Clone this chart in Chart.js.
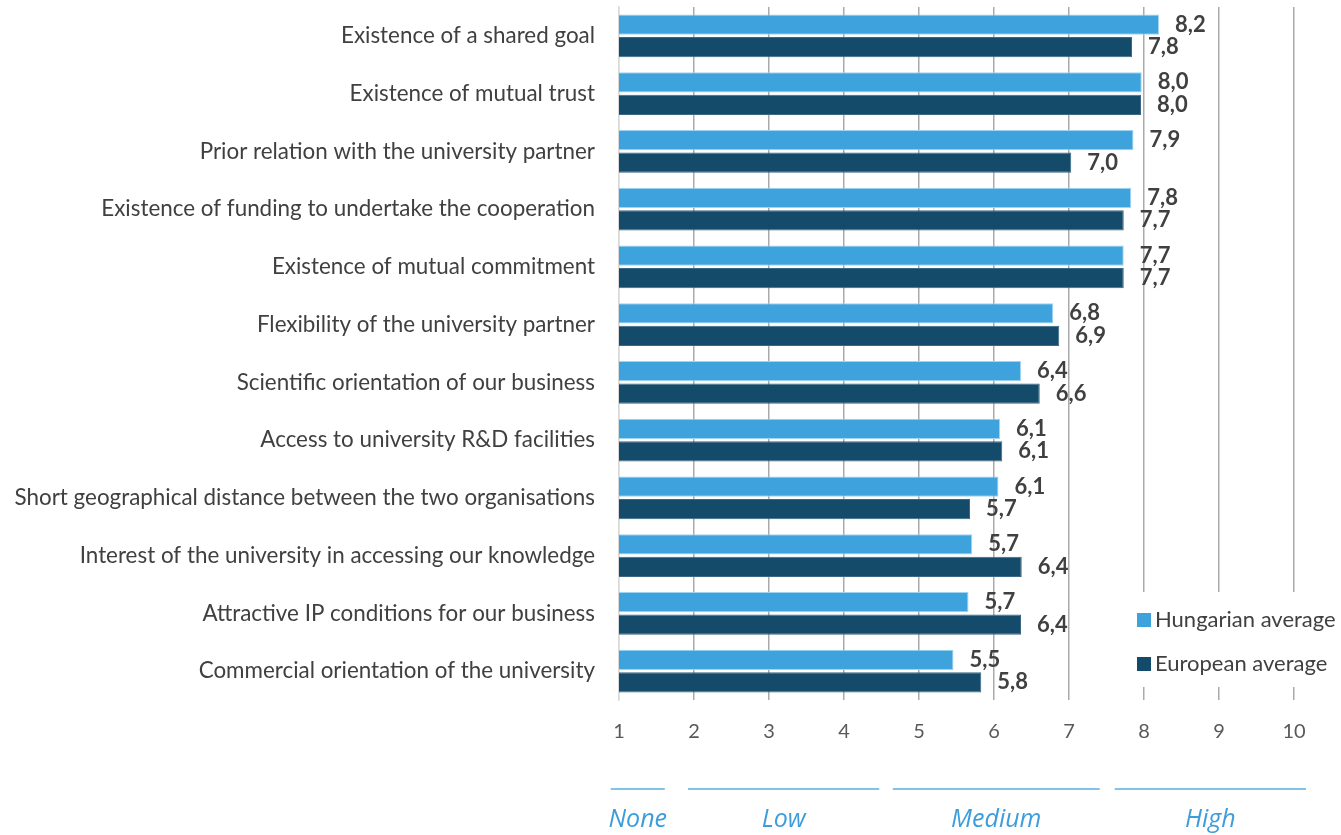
<!DOCTYPE html>
<html>
<head>
<meta charset="utf-8">
<script src="https://cdn.jsdelivr.net/npm/chart.js@4.4.1/dist/chart.umd.min.js"></script>
<style>
  html, body { margin: 0; padding: 0; background: #fff; }
</style>
</head>
<body>
<canvas id="chart" width="1341" height="835"></canvas>
<script>
// categories, top to bottom
const categories = [
  "Existence of a shared goal",
  "Existence of mutual trust",
  "Prior relation with the university partner",
  "Existence of funding to undertake the cooperation",
  "Existence of mutual commitment",
  "Flexibility of the university partner",
  "Scientific orientation of our business",
  "Access to university R&D facilities",
  "Short geographical distance between the two organisations",
  "Interest of the university in accessing our knowledge",
  "Attractive IP conditions for our business",
  "Commercial orientation of the university"
];
const hungarian = [8.2, 7.97, 7.86, 7.83, 7.73, 6.79, 6.36, 6.08, 6.06, 5.71, 5.66, 5.46];
const european = [7.84, 7.96, 7.03, 7.73, 7.73, 6.87, 6.61, 6.11, 5.68, 6.37, 6.36, 5.83];
const seriesNames = ["Hungarian average", "European average"];

// rating bands under the axis
const levelNames = ["None", "Low", "Medium", "High"];
const levelFrom = [0.89, 1.92, 4.65, 7.61];
const levelTo = [1.61, 4.47, 7.41, 10.16];

const textColor = "#404040";
const lightBlue = "#3ea3dd";
const darkBlue = "#144a6a";
const bandBlue = "#3d9ddb";

// value labels at the end of each bar, comma as decimal mark
const valueLabels = {
  id: "valueLabels",
  afterDatasetsDraw(chart) {
    const ctx = chart.ctx;
    ctx.save();
    ctx.font = "bold 22px Lato";
    ctx.fillStyle = textColor;
    ctx.textBaseline = "middle";
    ctx.textAlign = "left";
    chart.data.datasets.forEach((ds, i) => {
      chart.getDatasetMeta(i).data.forEach((bar, j) => {
        const txt = ds.data[j].toFixed(1).replace(".", ",");
        ctx.fillText(txt, bar.x + 16, bar.y);
      });
    });
    ctx.restore();
  }
};

// legend box sitting over the bottom right of the plot
const boxLegend = {
  id: "boxLegend",
  afterDraw(chart) {
    const ctx = chart.ctx;
    ctx.save();
    ctx.fillStyle = "#fff";
    ctx.fillRect(1128, 592, 213, 95);
    ctx.font = "22px Lato";
    ctx.textBaseline = "middle";
    chart.data.datasets.forEach((ds, i) => {
      const y = 620 + i * 44;
      ctx.fillStyle = ds.backgroundColor;
      ctx.fillRect(1137, y - 7, 14, 14);
      ctx.fillStyle = textColor;
      ctx.fillText(ds.label, 1155, y);
    });
    ctx.restore();
  }
};

// None / Low / Medium / High bands
const bands = {
  id: "bands",
  afterDraw(chart) {
    const ctx = chart.ctx;
    const x = chart.scales.x;
    ctx.save();
    ctx.strokeStyle = "#5aaee2";
    ctx.lineWidth = 1.5;
    ctx.fillStyle = bandBlue;
    ctx.font = "italic 25px 'Open Sans'";
    ctx.textAlign = "center";
    ctx.textBaseline = "middle";
    levelNames.forEach((name, i) => {
      const x1 = x.getPixelForValue(levelFrom[i]);
      const x2 = x.getPixelForValue(levelTo[i]);
      ctx.beginPath();
      ctx.moveTo(x1, 789);
      ctx.lineTo(x2, 789);
      ctx.stroke();
      ctx.fillText(name, (x1 + x2) / 2, 820);
    });
    ctx.restore();
  }
};

const ctx = document.getElementById("chart").getContext("2d");
new Chart(ctx, {
  type: "bar",
  data: {
    labels: categories,
    datasets: [
      {
        label: seriesNames[0],
        data: hungarian,
        backgroundColor: lightBlue,
        borderColor: "#9fd4f2",
        borderWidth: 1
      },
      {
        label: seriesNames[1],
        data: european,
        backgroundColor: darkBlue,
        borderColor: "#3a6886",
        borderWidth: 1
      }
    ]
  },
  options: {
    indexAxis: "y",
    responsive: false,
    animation: false,
    categoryPercentage: 0.78,
    barPercentage: 0.89,
    layout: { padding: { top: 7, right: 47, bottom: 0, left: 0 } },
    plugins: {
      legend: { display: false },
      tooltip: { enabled: false }
    },
    scales: {
      y: {
        afterFit: (s) => { s.width = 619; s.paddingTop = 0; s.paddingBottom = 0; },
        grid: { display: false, drawTicks: false },
        border: { color: "#d9d9d9", width: 1.5 },
        ticks: { color: textColor, font: { family: "Lato", size: 22.4 }, padding: 24 }
      },
      x: {
        min: 1,
        max: 10,
        afterFit: (s) => { s.height = 135; },
        border: { display: false },
        grid: {
          drawTicks: false,
          lineWidth: 1.5,
          color: (c) => (c.tick && c.tick.value === 1 ? "#d9d9d9" : "#aaaaaa")
        },
        ticks: { stepSize: 1, color: "#595959", font: { family: "Lato", size: 20 }, padding: 20 }
      }
    }
  },
  plugins: [valueLabels, boxLegend, bands]
});
</script>
</body>
</html>
